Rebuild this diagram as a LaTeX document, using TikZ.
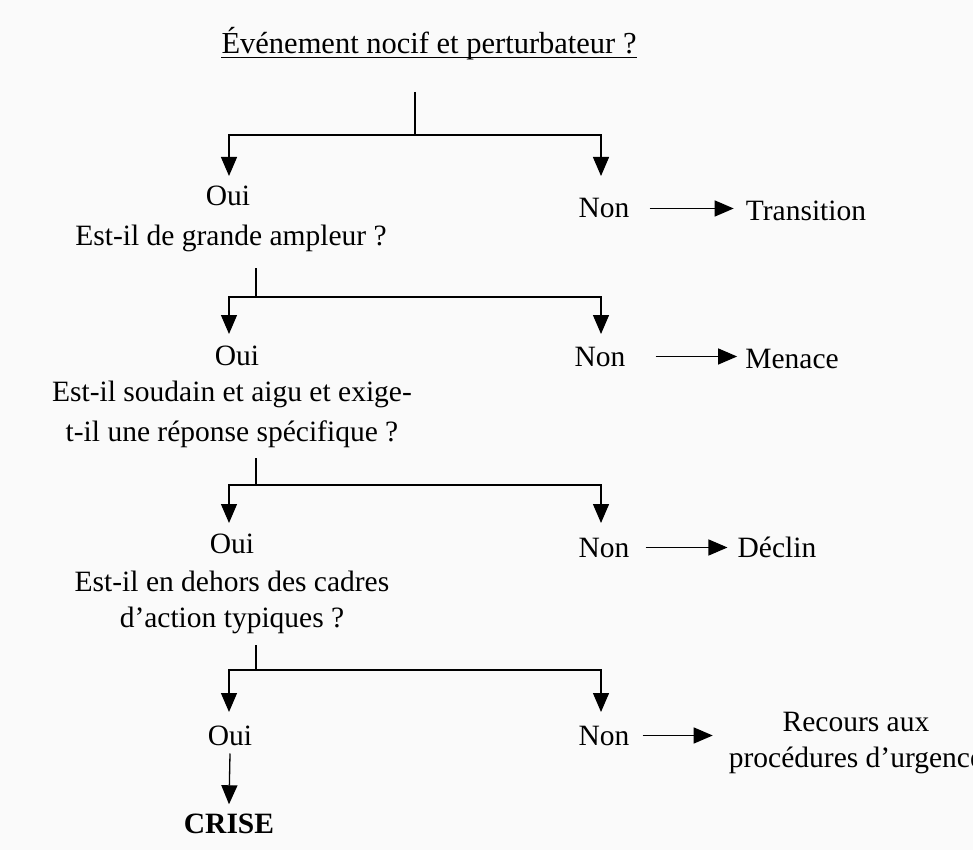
\documentclass[tikz,border=0pt]{standalone}
\usepackage{fontspec}
\setmainfont{Liberation Serif}
\usetikzlibrary{arrows.meta}
\begin{document}
\begin{tikzpicture}[x=1pt,y=-1pt,
  lbl/.style={inner sep=0pt, anchor=base, align=center,
    font=\fontsize{29.5}{40}\selectfont},
  link/.style={line width=1.3pt, draw=black},
  arr/.style={link, -{Triangle[width=16pt,length=19pt]}}]
\useasboundingbox[fill=white!98!black] (0,0) rectangle (973,850);

% title question (multi-line nodes are placed by the baseline of their last line)
\node[lbl, font=\fontsize{30.5}{40}\selectfont] (title) at (429,54) {Événement nocif et perturbateur ?};
\draw[line width=1pt] ([yshift=-4pt]title.base west) -- ([yshift=-4pt]title.base east);

% level 1
\node[lbl] (oui1) at (228,206) {Oui};
\node[lbl] (q1) at (231,245) {Est-il de grande ampleur ?};
\node[lbl] (non1) at (604,218) {Non};
\node[lbl] (res1) at (806,220) {Transition};

% level 2
\node[lbl] (oui2) at (237,365) {Oui};
\node[lbl] (q2) at (232,441) {Est-il soudain et aigu et exige-\\t-il une réponse spécifique ?};
\node[lbl] (non2) at (600,366) {Non};
\node[lbl] (res2) at (792,368) {Menace};

% level 3
\node[lbl, font=\fontsize{29.5}{36}\selectfont] (oui3) at (232,553) {Oui};
\node[lbl, font=\fontsize{29.5}{36}\selectfont] (q3) at (232,627) {Est-il en dehors des cadres\\d'action typiques ?};
\node[lbl] (non3) at (604,557) {Non};
\node[lbl] (res3) at (777,557) {Déclin};

% level 4
\node[lbl] (oui4) at (230,745) {Oui};
\node[lbl] (non4) at (604,745) {Non};
\node[lbl, font=\fontsize{29.5}{36}\selectfont] (res4) at (856,767) {Recours aux\\procédures d'urgence};
\node[lbl, font=\fontsize{29.5}{38}\selectfont\bfseries] (crise) at (229,833) {CRISE};

% branch points and arrow ends
\coordinate (s1) at (415,92);   \coordinate (j1) at (415,135);
\coordinate (t1a) at (229,176); \coordinate (t1b) at (601,176);
\coordinate (s2) at (256,268);  \coordinate (j2) at (256,297);
\coordinate (t2a) at (229,334); \coordinate (t2b) at (601,334);
\coordinate (s3) at (256,458);  \coordinate (j3) at (256,485);
\coordinate (t3a) at (229,523); \coordinate (t3b) at (601,523);
\coordinate (s4) at (256,645);  \coordinate (j4) at (256,670);
\coordinate (t4a) at (229,712); \coordinate (t4b) at (601,712);

\draw[link] (s1) -- (j1);
\draw[arr] (j1) -| (t1a);
\draw[arr] (j1) -| (t1b);
\draw[link] (s2) -- (j2);
\draw[arr] (j2) -| (t2a);
\draw[arr] (j2) -| (t2b);
\draw[link] (s3) -- (j3);
\draw[arr] (j3) -| (t3a);
\draw[arr] (j3) -| (t3b);
\draw[link] (s4) -- (j4);
\draw[arr] (j4) -| (t4a);
\draw[arr] (j4) -| (t4b);

% "Non" outcomes
\draw[arr] ([xshift=20pt]non1.east) -- ([xshift=-12pt]res1.west |- non1.east);
\draw[arr] ([xshift=30pt]non2.east) -- ([xshift=-8pt]res2.west |- non2.east);
\draw[arr] ([xshift=16pt]non3.east) -- ([xshift=-10pt]res3.west |- non3.east);
\draw[arr] ([xshift=13pt]non4.east) -- ([xshift=-16pt]res4.west |- non4.east);

% final outcome
\draw[arr] ([yshift=-8pt]oui4.south) -- ([yshift=9pt]crise.north);
\end{tikzpicture}
\end{document}
